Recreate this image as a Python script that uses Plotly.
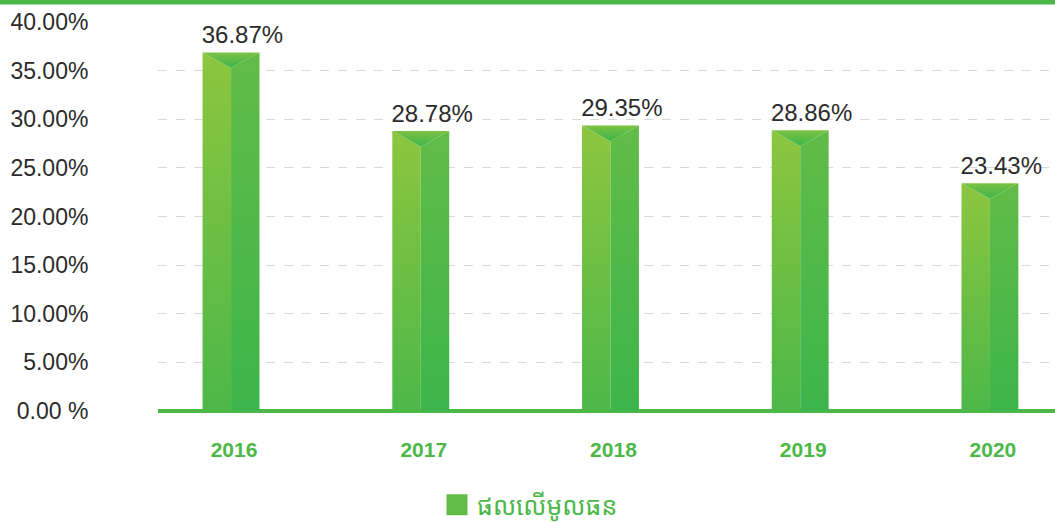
import plotly.graph_objects as go

years = ["2016", "2017", "2018", "2019", "2020"]
values = [36.87, 28.78, 29.35, 28.86, 23.43]
y_tick_vals = [0, 5, 10, 15, 20, 25, 30, 35, 40]
y_tick_text = ["0.00 %", "5.00%", "10.00%", "15.00%", "20.00%", "25.00%", "30.00%", "35.00%", "40.00%"]
series_name = "ផលលើមូលធន"

GREEN = "#4cb848"
TEXT = "#2b2b2b"
HALF_W = 0.15      # half bar width in category units
NOTCH = 1.6        # depth of the top notch, in % units
LABEL_DX = 0.06
LABEL_DY = 0.35

fig = go.Figure()

for i, v in enumerate(values):
    x0, xc, x1 = i - HALF_W, i, i + HALF_W
    # left (lighter) face
    fig.add_trace(go.Scatter(
        x=[x0, xc, xc, x0, x0], y=[0, 0, v - NOTCH, v, 0],
        mode="lines", line=dict(width=0), fill="toself",
        fillgradient=dict(type="vertical", start=0, stop=v,
                          colorscale=[[0, "#4cb848"], [1, "#8dc63f"]]),
        hoverinfo="skip", showlegend=False))
    # right (darker) face
    fig.add_trace(go.Scatter(
        x=[xc, x1, x1, xc, xc], y=[0, 0, v, v - NOTCH, 0],
        mode="lines", line=dict(width=0), fill="toself",
        fillgradient=dict(type="vertical", start=0, stop=v,
                          colorscale=[[0, "#3cb54a"], [1, "#62bc47"]]),
        hoverinfo="skip", showlegend=False))
    # top notch
    fig.add_trace(go.Scatter(
        x=[x0, x1, xc, x0], y=[v, v, v - NOTCH, v],
        mode="lines", line=dict(width=0), fill="toself",
        fillgradient=dict(type="vertical", start=v - NOTCH, stop=v,
                          colorscale=[[0, "#3cb54a"], [1, "#7cc243"]]),
        hoverinfo="skip", showlegend=False))

# value labels
fig.add_trace(go.Scatter(
    x=[i + LABEL_DX for i in range(len(values))], y=[v + LABEL_DY for v in values],
    mode="text", text=[f"{v:.2f}%" for v in values],
    textposition="top center",
    textfont=dict(family="Liberation Sans, Arial, sans-serif", size=24, color=TEXT),
    hoverinfo="skip", showlegend=False))

# legend entry
fig.add_trace(go.Scatter(
    x=[None], y=[None], mode="markers", name=series_name,
    marker=dict(symbol="square", size=16, color="#62bc47",
                line=dict(width=5, color="#62bc47")),
    showlegend=True))

plot_h = 523 - 22 - 112
fig.update_layout(
    width=1055, height=523,
    margin=dict(l=158, r=0, t=22, b=112, autoexpand=False),
    paper_bgcolor="white", plot_bgcolor="white",
    font=dict(family="Liberation Sans, Arial, sans-serif", color=TEXT),
    xaxis=dict(
        range=[-0.385, 4.343],
        tickvals=list(range(len(years))), ticktext=years,
        tickfont=dict(size=21, color=GREEN, family="Liberation Sans, Arial, sans-serif", weight="bold"),
        ticks="outside", ticklen=20, tickcolor="rgba(0,0,0,0)",
        ticklabelshift=3,
        showgrid=False, zeroline=False, showline=False,
    ),
    yaxis=dict(
        range=[0, 40],
        tickvals=y_tick_vals, ticktext=y_tick_text,
        tickfont=dict(size=23, color=TEXT),
        ticks="outside", ticklen=64, tickcolor="rgba(0,0,0,0)",
        showgrid=True, gridcolor="#d9d9d9", griddash="dash", gridwidth=1,
        zeroline=True, zerolinecolor=GREEN, zerolinewidth=4,
        showline=False,
    ),
    showlegend=True,
    legend=dict(
        orientation="h", x=(530 - 158) / 897, xanchor="center",
        y=(411 - 505) / plot_h, yanchor="middle",
        font=dict(size=25, color=GREEN, family="Noto Sans Khmer, Noto Sans, sans-serif"),
        bgcolor="rgba(0,0,0,0)",
    ),
    shapes=[dict(type="line", xref="paper", yref="paper",
                 x0=-158 / 897, x1=1.0, y0=1 + 19.7 / plot_h, y1=1 + 19.7 / plot_h,
                 line=dict(color=GREEN, width=4.5))],
)

fig.write_html("out.html", config={"displayModeBar": False},
               post_script="document.body.style.margin='0';")
